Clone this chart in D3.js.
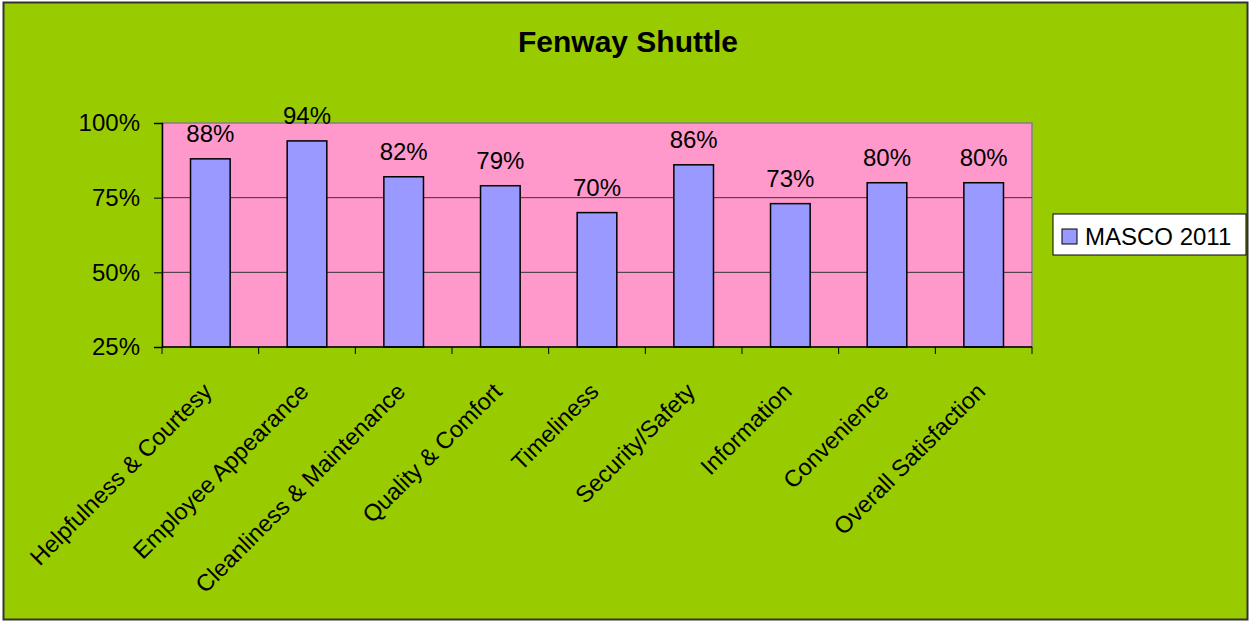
<!DOCTYPE html>
<html>
<head>
<meta charset="utf-8">
<script src="https://cdn.jsdelivr.net/npm/d3@7"></script>
<style>
  body { margin: 0; background: #fff; }
  svg text { font-family: "Liberation Sans", Arial, sans-serif; }
</style>
</head>
<body>
<svg width="1251" height="622"></svg>
<script>
// data
const categories = ["Helpfulness & Courtesy", "Employee Appearance", "Cleanliness & Maintenance",
  "Quality & Comfort", "Timeliness", "Security/Safety", "Information", "Convenience", "Overall Satisfaction"];
const values = [88, 94, 82, 79, 70, 86, 73, 80, 80];
const yTicks = [25, 50, 75, 100];
const seriesName = "MASCO 2011";

let svgWidth = 1251, svgHeight = 622;
let plot = {left: 162, top: 123, right: 1032, bottom: 347};

let svg = d3.select("svg");

// achtergrond + rand
svg.append("rect")
  .attr("x", 3.5).attr("y", 2.5)
  .attr("width", svgWidth - 7).attr("height", svgHeight - 5)
  .attr("fill", "#99cc00")
  .attr("stroke", "#333")
  .attr("stroke-width", 2);

svg.append("text")
  .attr("x", 628).attr("y", 52)
  .attr("text-anchor", "middle")
  .attr("font-size", 30)
  .attr("font-weight", "bold")
  .text("Fenway Shuttle");

let x = d3.scaleBand()
  .domain(categories)
  .range([plot.left, plot.right])
  .paddingInner(0.59)
  .paddingOuter(0.295);

let y = d3.scaleLinear()
  .domain([25, 100])
  .range([plot.bottom, plot.top]);

// plot area
svg.append("rect")
  .attr("x", plot.left).attr("y", plot.top)
  .attr("width", plot.right - plot.left).attr("height", plot.bottom - plot.top)
  .attr("fill", "#ff99cc")
  .attr("stroke", "#808080")
  .attr("stroke-width", 1.5);

// gridlines
svg.selectAll(".grid")
  .data(yTicks.filter(d => d > 25 && d < 100))
  .enter()
  .append("line")
  .attr("x1", plot.left).attr("x2", plot.right)
  .attr("y1", d => y(d)).attr("y2", d => y(d))
  .attr("stroke", "#333")
  .attr("stroke-width", 1);

// bars
svg.selectAll(".bar")
  .data(values)
  .enter()
  .append("rect")
  .attr("x", (d, i) => x(categories[i]))
  .attr("y", d => y(d))
  .attr("width", x.bandwidth())
  .attr("height", d => plot.bottom - y(d))
  .attr("fill", "#9999ff")
  .attr("stroke", "#000")
  .attr("stroke-width", 1.5);

// value labels
svg.selectAll(".val")
  .data(values)
  .enter()
  .append("text")
  .attr("x", (d, i) => x(categories[i]) + x.bandwidth() / 2)
  .attr("y", d => y(d) - 17)
  .attr("text-anchor", "middle")
  .attr("font-size", 24)
  .text(d => d + "%");

// y-as
let yAxis = d3.axisLeft(y)
  .tickValues(yTicks)
  .tickSize(8)
  .tickPadding(14)
  .tickFormat(d => d + "%");

let gy = svg.append("g")
  .attr("transform", "translate(" + plot.left + ",0)")
  .call(yAxis);
gy.select(".domain").attr("stroke", "#000").attr("stroke-width", 1.5);
gy.selectAll(".tick line").attr("stroke", "#000");
gy.selectAll(".tick text")
  .attr("font-size", 24)
  .attr("font-family", "Liberation Sans, Arial, sans-serif")
  .attr("fill", "#000");

// x-as, ticks op de grenzen tussen categorieën
let step = x.step();
let boundaries = d3.range(categories.length + 1).map(i => plot.left + i * step);
svg.append("line")
  .attr("x1", plot.left).attr("x2", plot.right)
  .attr("y1", plot.bottom).attr("y2", plot.bottom)
  .attr("stroke", "#000").attr("stroke-width", 1.5);
svg.selectAll(".xtick")
  .data(boundaries)
  .enter()
  .append("line")
  .attr("x1", d => d).attr("x2", d => d)
  .attr("y1", plot.bottom).attr("y2", plot.bottom + 7)
  .attr("stroke", "#000");

// categorie labels, schuin
svg.selectAll(".cat")
  .data(categories)
  .enter()
  .append("text")
  .attr("text-anchor", "end")
  .attr("font-size", 23.5)
  .attr("transform", d => "translate(" + (x(d) + x.bandwidth() / 2 + 3) + "," + (plot.bottom + 46) + ") rotate(-45)")
  .text(d => d);

// legenda
let legend = svg.append("g").attr("transform", "translate(1053,214)");
legend.append("rect")
  .attr("width", 193).attr("height", 41)
  .attr("fill", "#fff")
  .attr("stroke", "#000")
  .attr("stroke-width", 1);
legend.append("rect")
  .attr("x", 9).attr("y", 15)
  .attr("width", 15).attr("height", 15)
  .attr("fill", "#9999ff")
  .attr("stroke", "#000");
legend.append("text")
  .attr("x", 32).attr("y", 31)
  .attr("font-size", 24)
  .text(seriesName);
</script>
</body>
</html>
